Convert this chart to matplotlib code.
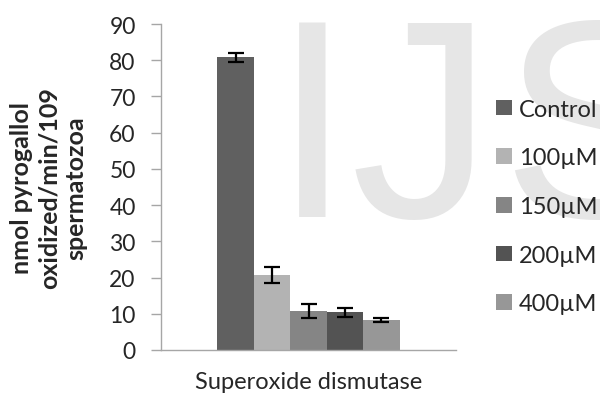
import numpy as np
import matplotlib
matplotlib.use("Agg")
import matplotlib.pyplot as plt

# Values
groups = ["Control", "100µM", "150µM", "200µM", "400µM"]
enzyme = "Superoxide dismutase"
values = [80.8, 20.7, 10.8, 10.4, 8.3]
errors = [1.2, 2.2, 2.0, 1.2, 0.5]
y_ticks = [0, 10, 20, 30, 40, 50, 60, 70, 80, 90]

bar_colors = ["#606060", "#b3b3b3", "#858585", "#535353", "#979797"]
text_color = "#262626"
axis_color = "#a6a6a6"

plt.rcParams["font.family"] = ["Lato", "DejaVu Sans"]

fig = plt.figure(figsize=(6, 4.02), dpi=100)

# faint watermark letters in a background layer
bg = fig.add_axes([0, 0, 1, 1], zorder=-1)
bg.axis("off")
wm = dict(fontsize=204, color="#e6e6e6", family="Liberation Sans", va="baseline", ha="left")
bg.text(273 / 600, 1 - 217 / 402, "I", **wm)
bg.text(351 / 600, 1 - 217 / 402, "J", **wm)
bg.text(501 / 600, 1 - 217 / 402, "S", **wm)

ax = fig.add_axes([161 / 600, 1 - 351 / 402, 295 / 600, 326 / 402], zorder=1)
ax.patch.set_alpha(0)

n = len(groups)
width = 0.1235
x = (np.arange(n) - (n - 1) / 2) * width
for i in range(n):
    ax.bar(x[i], values[i], width, color=bar_colors[i], label=groups[i], zorder=2)
    ax.errorbar(x[i], values[i], yerr=errors[i], fmt="none", ecolor="black",
                elinewidth=1.6, capsize=5.5, capthick=1.6, zorder=3)

ax.set_xlim(-0.5, 0.5)
ax.set_ylim(0, 90)
ax.set_yticks(y_ticks)
ax.set_xticks([])

for s in ["top", "right"]:
    ax.spines[s].set_visible(False)
for s in ["left", "bottom"]:
    ax.spines[s].set_color(axis_color)
    ax.spines[s].set_linewidth(1.0)

ax.tick_params(axis="y", direction="out", length=7.2, width=1.0, color=axis_color,
               labelsize=16.5, labelcolor=text_color, pad=11)

ax.set_xlabel(enzyme, fontsize=17, color=text_color, labelpad=15)
ax.set_ylabel("nmol pyrogallol\noxidized/min/109\nspermatozoa", fontsize=18,
              fontweight="bold", color=text_color, labelpad=16, linespacing=1.2)

leg = ax.legend(loc="center left", bbox_to_anchor=(1.105, 0.44), frameon=False,
                fontsize=17, handlelength=0.64, handleheight=0.64, handletextpad=0.3,
                labelspacing=1.17, borderaxespad=0)
for t in leg.get_texts():
    t.set_color(text_color)

fig.savefig("out.png", dpi=100)
